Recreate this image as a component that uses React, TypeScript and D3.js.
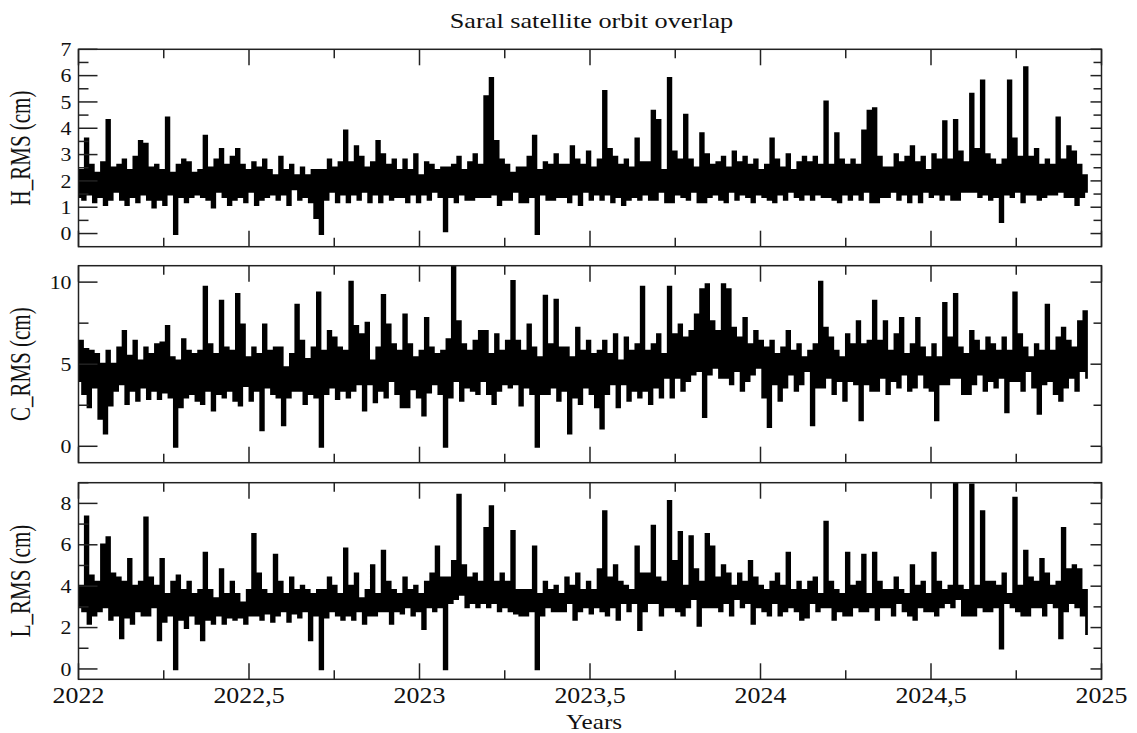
import React from 'react';
import * as d3 from 'd3';

// sampled series, one value every ~2.9 days from 2022.0 to 2024.96
const hRms = [
  1.4, 2.4, 1.3, 3.6, 1.5, 2.6, 1.2, 2.3, 1.4, 2.7, 1.1, 4.3, 1.3, 2.5, 1.6,
  2.6, 1.3, 2.8, 1.1, 2.4, 1.4, 2.9, 1.2, 3.5, 1.5, 3.4, 1.3, 2.5, 1.0, 2.6,
  1.3, 2.4, 1.1, 4.4, 1.5, 2.3, 0.0, 2.6, 1.4, 2.8, 1.2, 2.7, 1.4, 2.3, 1.5,
  2.4, 1.4, 3.7, 1.3, 2.5, 1.0, 2.8, 1.6, 3.2, 1.4, 2.6, 1.1, 2.9, 1.3, 3.2,
  1.4, 2.6, 1.2, 2.4, 1.6, 2.7, 1.1, 2.5, 1.3, 2.8, 1.4, 2.4, 1.5, 2.2, 1.3,
  2.9, 1.5, 2.4, 1.1, 2.6, 1.7, 2.2, 1.3, 2.5, 1.4, 2.2, 1.2, 2.4, 0.6, 2.4,
  0.0, 2.4, 1.3, 2.8, 1.6, 2.5, 1.2, 2.7, 1.5, 3.9, 1.2, 2.7, 1.5, 3.3, 1.3,
  2.9, 1.6, 2.5, 1.2, 2.7, 1.5, 3.5, 1.2, 3.0, 1.5, 2.6, 1.3, 2.8, 1.4, 2.4,
  1.4, 2.8, 1.2, 2.4, 1.5, 3.0, 1.2, 2.2, 1.5, 2.7, 1.3, 2.6, 1.6, 2.4, 1.4,
  2.5, 0.1, 2.5, 1.4, 2.6, 1.2, 2.9, 1.5, 2.4, 1.3, 2.7, 1.3, 3.0, 1.4, 2.6,
  1.4, 5.2, 1.4, 5.9, 1.5, 3.5, 1.1, 2.8, 1.3, 2.6, 1.3, 2.3, 1.6, 2.5, 1.2,
  2.5, 1.2, 2.9, 1.4, 3.7, 0.0, 2.4, 1.5, 2.7, 1.3, 2.6, 1.3, 3.0, 1.4, 2.6,
  1.4, 2.6, 1.2, 3.3, 1.5, 2.8, 1.1, 2.6, 1.6, 3.1, 1.3, 2.5, 1.5, 2.8, 1.3,
  5.4, 1.5, 3.2, 1.2, 2.9, 1.4, 2.6, 1.1, 2.8, 1.3, 2.5, 1.4, 3.6, 1.3, 2.7,
  1.5, 2.7, 1.3, 4.65, 1.3, 4.3, 1.6, 2.4, 1.2, 5.9, 1.2, 3.1, 1.5, 2.8, 1.4,
  4.5, 1.3, 2.8, 1.6, 2.5, 1.2, 3.8, 1.2, 3.0, 1.4, 2.6, 1.5, 2.7, 1.3, 2.9,
  1.2, 2.5, 1.6, 3.1, 1.3, 2.7, 1.5, 2.9, 1.4, 2.6, 1.2, 2.8, 1.5, 2.4, 1.4,
  2.6, 1.3, 3.6, 1.2, 2.8, 1.5, 2.5, 1.3, 3.0, 1.6, 2.4, 1.4, 2.7, 1.3, 2.9,
  1.5, 2.7, 1.3, 2.9, 1.5, 2.6, 1.4, 5.0, 1.4, 2.6, 1.3, 3.8, 1.2, 2.8, 1.5,
  2.6, 1.3, 2.8, 1.5, 2.6, 1.3, 3.9, 1.6, 4.65, 1.2, 4.75, 1.2, 2.9, 1.4, 2.5,
  1.4, 2.5, 1.6, 3.0, 1.3, 2.7, 1.5, 2.9, 1.2, 3.3, 1.5, 2.7, 1.2, 2.9, 1.6,
  2.4, 1.4, 3.0, 1.5, 2.8, 1.3, 4.25, 1.5, 2.8, 1.3, 4.3, 1.3, 3.1, 1.6, 2.7,
  1.6, 5.3, 1.6, 3.2, 1.4, 5.8, 1.5, 3.0, 1.3, 2.8, 1.4, 2.6, 0.45, 2.8, 1.5,
  5.8, 1.4, 3.6, 1.6, 2.9, 1.2, 6.3, 1.5, 2.9, 1.5, 3.2, 1.3, 2.6, 1.4, 2.8,
  1.5, 2.6, 1.5, 4.4, 1.6, 2.8, 1.4, 3.3, 1.4, 3.1, 1.1, 2.6, 1.4, 2.2, 1.6,
];

const cRms = [
  4.0, 6.4, 3.2, 5.9, 2.4, 5.8, 3.6, 5.6, 1.7, 5.0, 0.8, 5.8, 2.5, 5.0, 3.4,
  6.0, 3.8, 7.0, 2.6, 5.5, 3.4, 6.4, 2.8, 5.2, 3.6, 6.0, 2.9, 5.6, 3.4, 6.2,
  2.9, 6.3, 3.3, 7.3, 3.0, 5.4, 0.0, 5.2, 2.4, 6.5, 3.0, 5.8, 3.2, 5.6, 2.8,
  5.8, 2.6, 9.7, 3.4, 6.2, 2.2, 5.6, 3.2, 8.85, 3.0, 6.0, 3.4, 5.8, 2.8, 9.25,
  2.5, 7.4, 3.7, 5.4, 2.8, 6.0, 3.4, 5.6, 1.0, 7.4, 3.6, 5.8, 3.2, 6.0, 3.0,
  6.0, 1.3, 4.8, 3.0, 5.6, 3.4, 8.6, 3.4, 6.4, 2.6, 5.3, 3.2, 6.0, 3.0, 9.35,
  0.0, 5.8, 3.2, 7.0, 3.6, 6.6, 2.9, 6.0, 3.4, 5.8, 3.0, 10.0, 3.4, 7.3, 3.8,
  6.8, 2.2, 7.5, 3.8, 5.2, 2.7, 6.0, 3.4, 9.2, 3.0, 7.4, 4.0, 6.2, 3.2, 5.8,
  2.4, 8.0, 2.4, 6.2, 3.5, 5.4, 3.0, 5.8, 1.9, 7.8, 3.3, 6.0, 3.8, 5.6, 3.2,
  5.8, 0.0, 6.5, 3.0, 11.0, 4.0, 7.6, 2.8, 6.2, 3.6, 5.8, 3.4, 6.4, 3.2, 7.0,
  4.0, 7.0, 3.2, 5.6, 2.6, 6.8, 3.4, 5.8, 3.8, 6.4, 3.6, 10.05, 3.8, 6.4, 2.5,
  5.8, 3.6, 7.4, 3.2, 6.0, 0.0, 5.4, 3.2, 9.15, 3.2, 6.2, 3.6, 8.9, 2.8, 6.0,
  3.4, 6.0, 0.8, 5.4, 3.0, 7.2, 2.6, 5.8, 3.6, 6.4, 3.2, 5.6, 2.4, 5.8, 1.1,
  6.4, 3.2, 5.6, 3.8, 6.8, 2.4, 5.2, 3.8, 6.6, 2.8, 5.8, 3.4, 6.2, 3.0, 9.7,
  3.4, 5.8, 2.6, 6.2, 3.6, 6.8, 3.0, 5.6, 4.2, 9.7, 3.0, 6.8, 4.2, 7.4, 3.4,
  6.6, 4.0, 7.0, 4.4, 8.0, 4.6, 9.55, 1.8, 9.85, 4.4, 7.6, 4.8, 7.0, 4.2, 9.85,
  4.2, 9.55, 3.8, 7.2, 4.6, 6.6, 3.4, 7.8, 4.0, 6.2, 4.4, 7.0, 4.8, 6.4, 3.0,
  6.0, 1.2, 6.4, 3.8, 5.6, 2.8, 6.0, 3.6, 7.0, 4.4, 5.8, 3.4, 6.2, 3.8, 5.4,
  4.6, 5.8, 1.3, 6.2, 3.6, 10.0, 3.6, 7.2, 4.2, 6.6, 3.2, 5.8, 4.0, 5.4, 2.8,
  6.8, 4.0, 6.2, 3.8, 7.6, 1.6, 6.2, 3.8, 6.4, 3.4, 8.85, 3.4, 6.4, 4.2, 7.6,
  3.2, 5.8, 4.0, 6.8, 3.6, 7.8, 4.4, 5.6, 3.4, 6.2, 3.6, 7.8, 4.4, 6.0, 3.6,
  5.4, 3.4, 6.2, 1.6, 5.4, 3.8, 8.7, 3.8, 6.6, 4.2, 9.25, 4.2, 6.0, 3.2, 5.6,
  3.2, 7.0, 3.8, 6.4, 4.4, 5.8, 3.4, 6.6, 4.0, 6.2, 3.6, 5.8, 4.2, 6.6, 2.1,
  5.8, 4.0, 9.35, 4.0, 6.8, 3.4, 6.0, 4.6, 5.4, 3.6, 6.2, 2.0, 5.8, 3.8, 8.6,
  4.0, 5.8, 3.2, 6.6, 2.8, 7.2, 3.6, 6.4, 4.2, 6.0, 3.4, 7.6, 4.6, 8.2, 4.2,
];

const lRms = [
  3.0, 4.0, 2.8, 7.35, 2.2, 4.5, 2.6, 4.2, 2.8, 6.0, 3.0, 6.35, 2.4, 4.6, 2.6,
  4.4, 1.5, 4.2, 2.5, 5.3, 2.2, 4.0, 2.8, 4.2, 2.6, 7.3, 2.6, 4.4, 3.0, 4.0,
  1.4, 5.3, 2.3, 3.6, 2.6, 4.2, 0.0, 4.5, 2.4, 3.8, 2.0, 4.2, 2.6, 3.6, 2.2,
  3.8, 1.4, 5.6, 2.4, 3.8, 2.2, 3.4, 2.6, 4.8, 2.2, 3.6, 2.5, 4.2, 2.4, 3.6,
  2.5, 3.2, 2.2, 3.8, 2.6, 6.5, 2.6, 4.6, 2.4, 3.8, 2.7, 3.6, 2.3, 5.5, 2.6,
  4.2, 2.8, 3.6, 2.3, 4.4, 2.7, 3.8, 2.5, 4.0, 2.8, 3.8, 1.4, 3.6, 2.6, 3.8,
  0.0, 3.8, 2.5, 4.4, 2.8, 4.0, 2.6, 3.6, 2.4, 5.8, 2.6, 4.0, 2.4, 4.6, 2.8,
  3.4, 2.2, 3.8, 2.6, 5.0, 2.6, 3.6, 2.8, 5.7, 2.8, 4.2, 2.2, 3.8, 2.8, 3.6,
  2.7, 4.4, 3.0, 3.8, 2.6, 4.0, 2.8, 3.6, 1.95, 4.2, 3.0, 4.6, 2.8, 5.9, 3.0,
  4.4, 0.0, 4.4, 3.2, 5.2, 3.4, 8.4, 3.6, 5.0, 3.0, 4.4, 3.2, 4.6, 3.0, 4.2,
  3.2, 6.8, 3.0, 7.85, 3.2, 4.2, 2.8, 4.6, 3.0, 4.2, 2.8, 6.65, 2.7, 3.8, 2.6,
  3.8, 2.6, 3.8, 2.8, 5.9, 0.0, 3.6, 2.6, 4.2, 3.0, 3.8, 2.8, 4.0, 2.8, 3.6,
  2.8, 4.4, 3.2, 4.0, 2.4, 4.6, 2.8, 3.8, 3.0, 4.2, 2.7, 3.8, 3.0, 4.8, 2.8,
  7.6, 2.6, 4.4, 3.0, 5.0, 2.4, 4.2, 3.2, 4.0, 2.8, 3.8, 3.2, 5.9, 1.9, 4.6,
  2.8, 4.6, 3.2, 6.9, 3.2, 4.4, 2.6, 4.2, 3.0, 8.1, 3.0, 5.2, 2.8, 6.6, 2.6,
  4.0, 3.0, 6.4, 3.4, 4.8, 2.1, 4.2, 3.0, 6.5, 3.0, 5.9, 3.0, 4.4, 2.8, 5.0,
  3.2, 4.6, 2.6, 4.0, 3.4, 4.6, 3.0, 4.2, 3.2, 5.2, 2.2, 4.4, 3.0, 4.0, 2.8,
  3.8, 2.6, 4.2, 3.2, 4.6, 2.6, 4.0, 2.8, 5.6, 3.0, 3.8, 2.8, 4.2, 2.4, 3.8,
  2.5, 4.2, 3.2, 4.4, 2.8, 3.6, 3.0, 7.1, 3.0, 4.2, 2.4, 3.8, 2.8, 3.6, 2.6,
  5.6, 2.6, 4.0, 3.0, 4.2, 2.8, 5.5, 2.8, 3.6, 3.0, 5.6, 2.4, 4.2, 3.0, 3.8,
  3.0, 3.8, 2.6, 4.4, 3.2, 3.8, 2.8, 3.6, 2.6, 5.0, 2.4, 4.0, 3.0, 4.2, 2.8,
  3.6, 2.8, 5.6, 2.6, 4.2, 3.0, 3.8, 3.2, 4.0, 3.0, 9.2, 3.4, 4.0, 2.6, 3.8,
  2.6, 8.9, 2.6, 4.0, 3.0, 7.6, 2.8, 4.2, 2.8, 4.2, 3.0, 4.0, 1.0, 4.6, 3.2,
  3.6, 3.0, 8.25, 2.8, 4.0, 2.6, 5.7, 2.6, 4.4, 3.0, 4.2, 3.0, 5.3, 2.6, 4.6,
  3.2, 4.0, 3.0, 4.2, 1.5, 6.8, 2.8, 4.8, 3.2, 5.0, 3.0, 4.8, 2.6, 3.8, 1.7,
];

const tStart = 2022.0;
const tEnd = 2024.96;
const xTickLabels = ['2022', '2022,5', '2023', '2023,5', '2024', '2024,5', '2025'];

const panels = [
  { key: 'h', title: 'H_RMS (cm)', values: hRms, domain: [-0.5, 7], major: [0, 1, 2, 3, 4, 5, 6, 7], minorStep: 0.5, top: 49.3, bottom: 246.7 },
  { key: 'c', title: 'C_RMS (cm)', values: cRms, domain: [-1, 11], major: [0, 5, 10], minorStep: 2.5, top: 265.7, bottom: 462.7 },
  { key: 'l', title: 'L_RMS (cm)', values: lRms, domain: [-0.5, 9], major: [0, 2, 4, 6, 8], minorStep: 1, top: 482.7, bottom: 679.3 },
];

const W = 1137;
const H = 733;
const left = 78.5;
const right = 1101.5;
const font = '"Liberation Serif", "DejaVu Serif", serif';
const ink = '#111';

const x = d3.scaleLinear().domain([2022, 2025]).range([left, right]);
const xMajor = d3.range(2022, 2025.01, 0.5);
const xMinor = d3.range(2022.25, 2025, 0.5);

function Panel({ p, last }: { p: any; last: boolean }) {
  const y = d3.scaleLinear().domain(p.domain).range([p.bottom, p.top]);
  const n = p.values.length;
  const pts = p.values.map((v: number, i: number) => [tStart + (i * (tEnd - tStart)) / (n - 1), v]);
  const line = d3.line<any>().x((d) => x(d[0])).y((d) => y(d[1])).curve(d3.curveStep);
  const minor = d3.range(0, p.domain[1] + 0.001, p.minorStep).filter((v: number) => !p.major.includes(v));
  const cy = (p.top + p.bottom) / 2;
  return (
    <g>
      <clipPath id={`clip-${p.key}`}>
        <rect x={left} y={p.top} width={right - left} height={p.bottom - p.top} />
      </clipPath>
      <path d={line(pts) || ''} fill="none" stroke="#000" strokeWidth={2.7} clipPath={`url(#clip-${p.key})`} />
      <rect x={left} y={p.top} width={right - left} height={p.bottom - p.top} fill="none" stroke="#222" strokeWidth={1.5} />
      {/* y ticks, inside on both sides */}
      {p.major.map((v: number) => (
        <g key={`ym${v}`}>
          <line x1={left} x2={left + 19} y1={y(v)} y2={y(v)} stroke="#222" strokeWidth={1.5} />
          <line x1={right} x2={right - 11} y1={y(v)} y2={y(v)} stroke="#222" strokeWidth={1.5} />
          <text transform={`translate(${left - 7},${y(v)}) scale(1.15,1)`} textAnchor="end" dy="0.35em" fontFamily={font} fontSize={19} fill={ink}>
            {v}
          </text>
        </g>
      ))}
      {minor.map((v: number) => (
        <g key={`yn${v}`}>
          <line x1={left} x2={left + 10} y1={y(v)} y2={y(v)} stroke="#222" strokeWidth={1.5} />
          <line x1={right} x2={right - 8} y1={y(v)} y2={y(v)} stroke="#222" strokeWidth={1.5} />
        </g>
      ))}
      {/* x ticks top and bottom */}
      {xMajor.map((t) => (
        <g key={`xm${t}`}>
          <line x1={x(t)} x2={x(t)} y1={p.top} y2={p.top + 16} stroke="#222" strokeWidth={1.5} />
          <line x1={x(t)} x2={x(t)} y1={p.bottom} y2={p.bottom - 16} stroke="#222" strokeWidth={1.5} />
        </g>
      ))}
      {xMinor.map((t) => (
        <g key={`xn${t}`}>
          <line x1={x(t)} x2={x(t)} y1={p.top} y2={p.top + 9} stroke="#222" strokeWidth={1.5} />
          <line x1={x(t)} x2={x(t)} y1={p.bottom} y2={p.bottom - 9} stroke="#222" strokeWidth={1.5} />
        </g>
      ))}
      <text transform={`translate(${30},${cy}) scale(1.4,1) rotate(-90)`} textAnchor="middle" fontFamily={font} fontSize={21} fill={ink}>
        {p.title}
      </text>
      {last &&
        xMajor.map((t, i) => (
          <text key={`xl${t}`} transform={`translate(${x(t)},${703}) scale(1.08,1)`} textAnchor="middle" fontFamily={font} fontSize={24} fill={ink}>
            {xTickLabels[i]}
          </text>
        ))}
    </g>
  );
}

export default function App() {
  return (
    <svg width={W} height={H} style={{ position: 'absolute', left: 0, top: 0, background: '#fff' }}>
      <rect width={W} height={H} fill="#fff" />
      <text transform={`translate(${591.5},${28}) scale(1.25,1)`} textAnchor="middle" fontFamily={font} fontSize={21} fill={ink}>
        Saral satellite orbit overlap
      </text>
      {panels.map((p, i) => (
        <Panel key={p.key} p={p} last={i === panels.length - 1} />
      ))}
      <text transform={`translate(${594},${729}) scale(1.2,1)`} textAnchor="middle" fontFamily={font} fontSize={21} fill={ink}>
        Years
      </text>
    </svg>
  );
}
